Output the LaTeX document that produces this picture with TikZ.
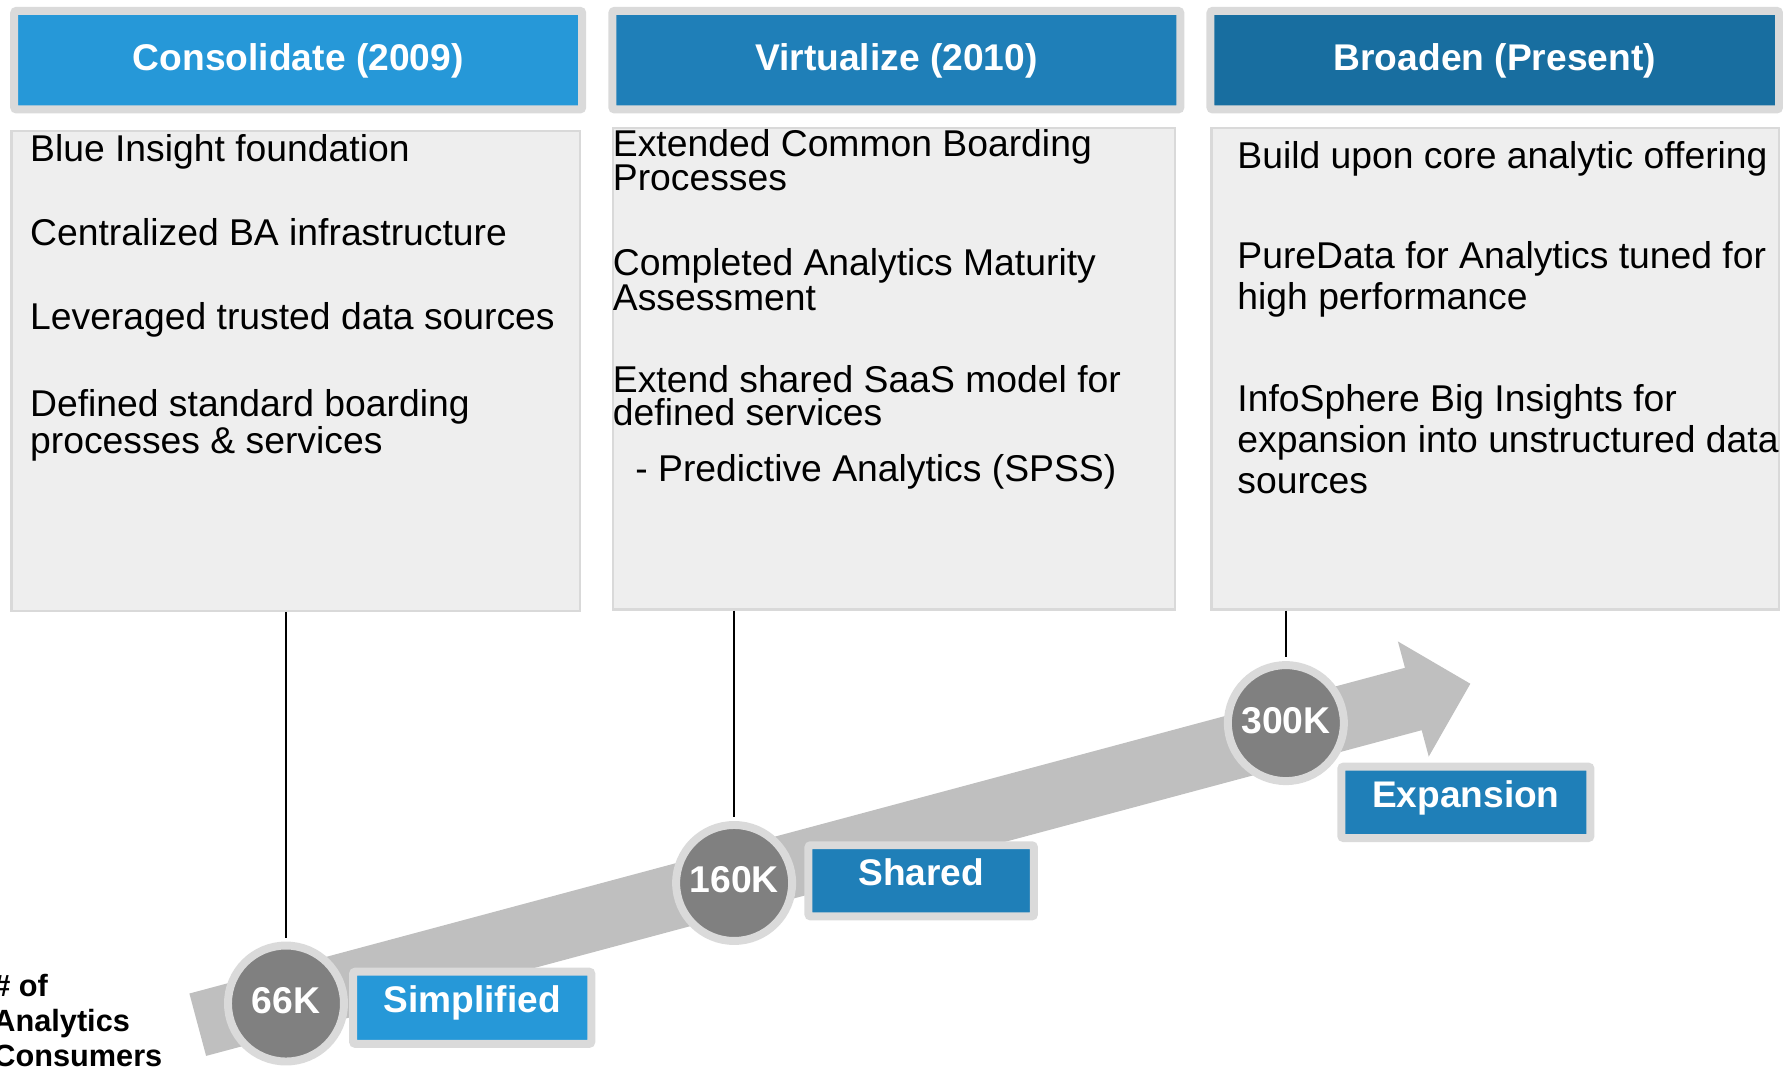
\documentclass[tikz,border=0pt]{standalone}
\usepackage{fontspec}
\setmainfont{Liberation Sans}

\definecolor{blueA}{HTML}{2698D8}
\definecolor{blueB}{HTML}{1F7FB8}
\definecolor{blueC}{HTML}{186EA0}
\definecolor{ringgray}{HTML}{DADADA}
\definecolor{panelfill}{HTML}{EEEEEE}
\definecolor{panelline}{HTML}{D9D9D9}
\definecolor{arrowgray}{HTML}{BFBFBF}
\definecolor{discgray}{HTML}{808080}

\begin{document}
\begin{tikzpicture}[
  x=1pt, y=-1pt,
  header/.style={draw=ringgray, line width=7pt, rounded corners=2pt, inner sep=0pt,
    minimum height=86.7pt, text=white,
    font=\fontsize{32.7}{36}\selectfont\bfseries, text height=24pt, text depth=6.6pt},
  panel/.style={draw=panelline, fill=panelfill, line width=2pt, inner sep=0pt},
  body/.style={anchor=base west, inner sep=0pt, text=black,
    font=\fontsize{32.8}{36}\selectfont},
  disc/.style={circle, fill=discgray, draw=ringgray, line width=7pt, inner sep=0pt,
    minimum size=102pt, text=white,
    font=\fontsize{32.8}{36}\selectfont\bfseries, text height=24pt, text depth=6.5pt},
  tag/.style={draw=ringgray, line width=7pt, rounded corners=2pt, inner sep=0pt,
    text=white, font=\fontsize{32.6}{36}\selectfont\bfseries,
    text height=24pt, text depth=15.6pt},
  stem/.style={draw=black, line width=1.3pt, shorten >=3.5pt},
]
\useasboundingbox (0,0) rectangle (1568,942);

% growth arrow behind everything
\begin{scope}[shift={(173.9,901.15)}, rotate=15]
  \fill[arrowgray] (0,-28.4) -- (1106.7,-28.4) -- (1106.7,-52.4) -- (1158.6,0)
    -- (1106.7,52.4) -- (1106.7,28.4) -- (0,28.4) -- cycle;
\end{scope}

% phase headers
\node[header, fill=blueA, minimum width=499.5pt] (h1) at (262.25,52.9) {Consolidate (2009)};
\node[header, fill=blueB, minimum width=499.5pt] (h2) at (788.25,52.9) {Virtualize (2010)};
\node[header, fill=blueC, minimum width=500pt]   (h3) at (1314.5,52.9) {Broaden (Present)};

% description panels
\node[panel, minimum width=500pt, minimum height=422pt]   (p1) at (260,326) {};
\node[panel, minimum width=494pt, minimum height=423.5pt] (p2) at (786,324.25) {};
\node[panel, minimum width=499pt, minimum height=423.5pt] (p3) at (1315,324.25) {};

% panel 1 text
\node[body] (t11) at (26.3,142.2) {Blue Insight foundation};
\node[body] (t12) at (26.3,216.3) {Centralized BA infrastructure};
\node[body] (t13) at (26.3,290.2) {Leveraged trusted data sources};
\node[body] (t14) at (26.3,366.4) {\parbox[t]{480pt}{\baselineskip=32.3pt
  Defined standard boarding\\processes \& services}};

% panel 2 text
\node[body] (t21) at (538.8,137.8) {\parbox[t]{490pt}{\baselineskip=29.9pt
  Extended Common Boarding\\Processes}};
\node[body] (t22) at (538.8,242.7) {\parbox[t]{490pt}{\baselineskip=29.3pt
  Completed Analytics Maturity\\Assessment}};
\node[body] (t23) at (538.8,345.3) {\parbox[t]{490pt}{\baselineskip=28.5pt
  Extend shared SaaS model for\\defined services}};
\node[body] (t24) at (558.6,423.6) {- Predictive Analytics (SPSS)};

% panel 3 text
\node[body] (t31) at (1088,148) {Build upon core analytic offering};
\node[body] (t32) at (1088,236) {\parbox[t]{490pt}{\baselineskip=36.6pt
  PureData for Analytics tuned for\\high performance}};
\node[body] (t33) at (1088,362) {\parbox[t]{490pt}{\baselineskip=36pt
  InfoSphere Big Insights for\\expansion into unstructured data\\sources}};

% milestones on the arrow
\node[disc] (c1) at (251.5,882.5) {66K};
\node[disc] (c2) at (645.6,776.5) {160K};
\node[disc] (c3) at (1130.8,635.9) {300K};

% stems from panels to milestones
\draw[stem] (c1.north |- p1.south) -- (c1.north);
\draw[stem] (c2.north |- p2.south) -- (c2.north);
\draw[stem] (c3.north |- p3.south) -- (c3.north);

% milestone tags
\node[tag, fill=blueA, minimum width=209.5pt, minimum height=63.5pt] (g1) at (415.25,886.25) {Simplified};
\node[tag, fill=blueB, minimum width=198.3pt, minimum height=62.6pt] (g2) at (810.1,774.6) {Shared};
\node[tag, fill=blueB, minimum width=219.1pt, minimum height=62.8pt] (g3) at (1289.1,705.6) {Expansion};

% axis caption
\node[anchor=base west, inner sep=0pt, font=\fontsize{27}{31}\selectfont\bfseries] (axis)
  at (-6,876) {\parbox[t]{200pt}{\baselineskip=31pt \#\ of\\Analytics\\Consumers}};
\end{tikzpicture}
\end{document}
